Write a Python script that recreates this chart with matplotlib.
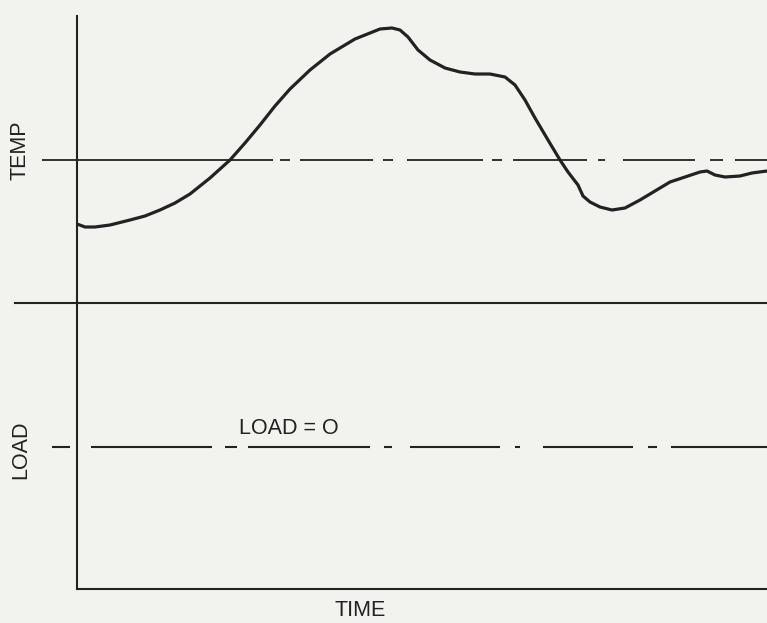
import matplotlib
matplotlib.use("Agg")
import matplotlib.pyplot as plt

plt.rcParams["font.family"] = ["Liberation Sans", "DejaVu Sans"]
plt.rcParams["lines.scale_dashes"] = False

# time (arbitrary units) and temperature trace (arbitrary units)
time = [0, 8, 18, 33, 53, 68, 83, 98, 113, 133, 153, 168, 183, 198, 213, 233,
        253, 278, 293, 303, 315, 323, 331, 341, 353, 368, 383, 398, 413, 428,
        438, 448, 458, 471, 483, 491, 501, 506, 513, 523, 535, 548, 563, 578,
        593, 608, 623, 630, 638, 648, 663, 675, 690]
temp = [365, 362, 362, 364, 369, 373, 379, 386, 395, 411, 429, 446, 464, 483,
        500, 519, 535, 550, 556, 560, 561, 559, 552, 539, 529, 521, 517, 515,
        515, 512, 504, 489, 471, 449, 429, 417, 404, 393, 387, 382, 379, 381,
        389, 398, 407, 412, 417, 418, 414, 412, 413, 416, 418]

temp_ref = 429      # reference temperature level
divider = 286       # boundary between TEMP and LOAD panels
load_zero = 142     # LOAD = O level
t_max = 690
y_max = 573

ink = "#222222"
bg = "#f2f2ef"

# hand-drawn dash-dot patterns (pixels, converted to points)
px = 0.72
temp_dash = [231, 7, 10, 10, 73, 10, 10, 14, 76, 9, 10, 11, 74, 11, 7, 18,
             72, 15, 13, 12, 100, 10]
load_dash = [18, 21, 121, 13, 12, 11, 122, 14, 8, 18, 90, 15, 5, 23, 90, 15,
             9, 14, 120, 10]

fig = plt.figure(figsize=(7.67, 6.23), dpi=100, facecolor=bg)
ax = fig.add_axes([77 / 767, 34 / 623, 690 / 767, 573 / 623])
ax.set_facecolor(bg)
ax.set_xlim(0, t_max)
ax.set_ylim(0, y_max)

for s in ["top", "right"]:
    ax.spines[s].set_visible(False)
for s in ["left", "bottom"]:
    ax.spines[s].set_color(ink)
    ax.spines[s].set_linewidth(1.5)
ax.set_xticks([])
ax.set_yticks([])

ax.plot([-35, t_max], [temp_ref, temp_ref], color=ink, lw=1.3,
        linestyle=(0, [d * px for d in temp_dash]), clip_on=False)
ax.plot([-62, t_max], [divider, divider], color=ink, lw=1.5, clip_on=False)
ax.plot([-25, t_max], [load_zero, load_zero], color=ink, lw=1.5,
        linestyle=(0, [d * px for d in load_dash]), clip_on=False)

ax.plot(time, temp, color=ink, lw=2.3, solid_joinstyle="round",
        solid_capstyle="round")

ax.text(-57, 439, "TEMP", rotation=90, ha="center", va="center",
        fontsize=15.5, color=ink)
ax.text(-56, 139, "LOAD", rotation=90, ha="center", va="center",
        fontsize=15.5, color=ink)
ax.text(283, -22, "TIME", ha="center", va="center", fontsize=15.5, color=ink)
ax.text(212, 161, "LOAD = O", ha="center", va="center", fontsize=15.5,
        color=ink)

fig.savefig("out.png", dpi=100, facecolor=bg)
